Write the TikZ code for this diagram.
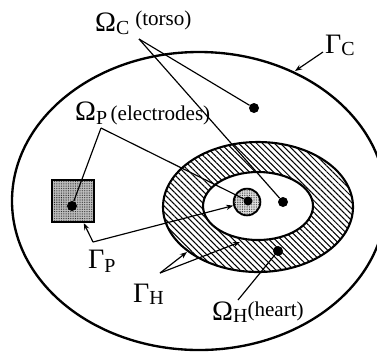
\documentclass[tikz,border=0pt]{standalone}
\usepackage{fontspec}
\setmainfont{Liberation Serif}
\usetikzlibrary{arrows.meta,patterns.meta}
\newcommand{\bigsz}{\fontsize{24pt}{24pt}\selectfont}
\newcommand{\subsz}{\fontsize{17pt}{17pt}\selectfont}
\newcommand{\notesz}{\fontsize{18pt}{18pt}\selectfont}
\newcommand{\sym}[3]{{\bigsz #1}\raisebox{#3}{\subsz #2}}

\begin{document}
\begin{tikzpicture}[x=0.03cm,y=-0.03cm,
  dot/.style={circle,fill,inner sep=0pt,minimum size=3mm},
  stipple/.style={preaction={fill=black!#1},pattern={Dots[distance=1.5pt,radius=0.35pt]}},
  lbl/.style={anchor=base west,inner sep=0pt},
  lead/.style={line width=1pt},
  arr/.style={line width=1pt,-{Stealth[length=6pt,width=4.5pt]}}]
  \useasboundingbox (0,0) rectangle (377,352);
  % torso, heart wall, cavity
  \draw[line width=2pt] (199,201) ellipse [x radius=187,y radius=149];
  \draw[line width=1.8pt,pattern={Lines[angle=-45,distance=3.6pt,line width=0.9pt]}]
    (258,207) ellipse [x radius=95,y radius=65];
  \draw[line width=1.8pt,fill=white] (258,206) ellipse [x radius=55,y radius=34];
  % electrodes and points
  \node[draw,line width=1.8pt,stipple=25,minimum size=1.26cm,inner sep=0pt] (elecsq) at (73,201) {};
  \node[draw,circle,line width=1.6pt,stipple=12,minimum size=8mm,inner sep=0pt] (elec) at (247,202) {};
  \node[dot,minimum size=2.7mm] (elecdot) at (248,201) {};
  \node[dot] (sqdot) at (72,206) {};
  \node[dot] (torsoA) at (254,108) {};
  \node[dot] (torsoB) at (283,202) {};
  \node[dot] (heartdot) at (278,251) {};
  % labels
  \node[lbl] (omc) at (95,31) {\sym{Ω}{C}{-3.4pt}\hspace{5pt}\raisebox{5pt}{\notesz (torso)}};
  \node[lbl] (gmc) at (325,53) {\sym{Γ}{C}{-2.5pt}};
  \node[lbl] (omp) at (75,120) {\sym{Ω}{P}{-4.2pt}\hspace{3pt}{\notesz (electrodes)}};
  \node[lbl] (gmp) at (88,268) {\sym{Γ}{P}{-4.2pt}};
  \node[lbl] (gmh) at (133,302) {\sym{Γ}{H}{-2.5pt}};
  \node[lbl] (omh) at (212,320) {\sym{Ω}{H}{-2.5pt}\raisebox{3.4pt}{\notesz (heart)}};
  % leader points
  \coordinate (cfan) at (139,39);
  \coordinate (pfan) at (101,128);
  \coordinate (gpfan) at (93,242);
  \coordinate (ghfan) at (160,273);
  \coordinate (hout) at (187,252);
  \coordinate (hin) at (240,242);
  \coordinate (gctail) at (323,52);
  \coordinate (gctip) at (295,71);
  \coordinate (ohtail) at (238,300);
  % leaders
  \draw[lead] (cfan) -- (torsoA);
  \draw[lead] (cfan) -- (torsoB);
  \draw[lead] (pfan) -- (sqdot);
  \draw[lead] (pfan) -- (elecdot);
  \draw[arr] (gpfan) -- (elecsq);
  \draw[arr] (gpfan) -- (elec);
  \draw[arr] (ghfan) -- (hout);
  \draw[arr] (ghfan) -- (hin);
  \draw[arr] (gctail) -- (gctip);
  \draw[lead] (ohtail) -- (heartdot);
\end{tikzpicture}
\end{document}
